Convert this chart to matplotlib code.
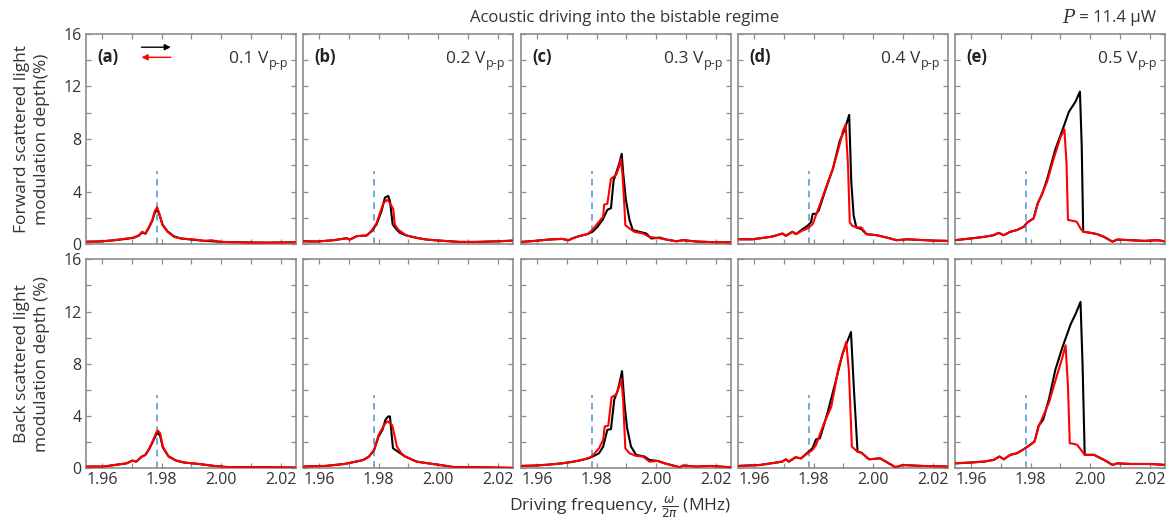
import matplotlib
matplotlib.use('Agg')
import matplotlib.pyplot as plt
from matplotlib.ticker import MultipleLocator, FixedLocator
import matplotlib.transforms as mtransforms

plt.rcParams['font.family'] = ['Open Sans', 'DejaVu Sans']

# ---------------- data (frequency in MHz, modulation depth in %) ----------------
voltages = ['0.1', '0.2', '0.3', '0.4', '0.5']
letters = ['(a)', '(b)', '(c)', '(d)', '(e)']
x_ticks = [1.96, 1.98, 2.00, 2.02]
x_tick_labels = ['1.96', '1.98', '2.00', '2.02']
y_ticks = [0, 4, 8, 12, 16]
resonance_f = 1.9783
resonance_top = 5.6

# Forward scattered (top row)
fa_f = [1.9547, 1.9594, 1.9639, 1.9684, 1.9707, 1.9724, 1.9735, 1.9746, 1.9758, 1.9769, 1.9777, 1.9785, 1.9792, 1.9803, 1.9820, 1.9842, 1.9865, 1.9910, 1.9943, 1.9966, 2.0000, 2.0090, 2.0157, 2.0248]
fa_blk_v = [0.20, 0.22, 0.30, 0.42, 0.50, 0.66, 0.90, 0.80, 1.28, 1.80, 2.40, 2.62, 2.30, 1.50, 0.98, 0.60, 0.44, 0.34, 0.26, 0.24, 0.18, 0.14, 0.12, 0.15]
fa_red_v = [0.18, 0.21, 0.31, 0.44, 0.51, 0.69, 0.95, 0.82, 1.33, 1.85, 2.50, 2.82, 2.36, 1.46, 0.95, 0.56, 0.44, 0.36, 0.26, 0.31, 0.18, 0.13, 0.13, 0.15]

fb_blk_f = [1.9547, 1.9593, 1.9649, 1.9693, 1.9704, 1.9727, 1.9760, 1.9777, 1.9793, 1.9810, 1.9821, 1.9832, 1.9838, 1.9847, 1.9860, 1.9871, 1.9893, 1.9927, 1.9960, 2.0004, 2.0071, 2.0127, 2.0204, 2.0248]
fb_blk_v = [0.23, 0.21, 0.31, 0.46, 0.36, 0.62, 0.67, 1.00, 1.51, 2.54, 3.54, 3.67, 3.28, 1.51, 1.13, 0.87, 0.67, 0.49, 0.36, 0.28, 0.18, 0.18, 0.23, 0.28]
fb_red_f = [1.9547, 1.9593, 1.9649, 1.9693, 1.9704, 1.9727, 1.9760, 1.9777, 1.9793, 1.9816, 1.9829, 1.9838, 1.9849, 1.9854, 1.9866, 1.9893, 1.9927, 1.9960, 2.0004, 2.0071, 2.0127, 2.0204, 2.0248]
fb_red_v = [0.23, 0.21, 0.31, 0.46, 0.36, 0.62, 0.67, 1.05, 1.60, 3.13, 3.38, 3.13, 2.67, 1.50, 1.10, 0.67, 0.49, 0.36, 0.28, 0.18, 0.18, 0.23, 0.28]

fc_blk_f = [1.9547, 1.9594, 1.9639, 1.9684, 1.9707, 1.9718, 1.9741, 1.9769, 1.9786, 1.9803, 1.9820, 1.9836, 1.9848, 1.9857, 1.9865, 1.9876, 1.9884, 1.9889, 1.9898, 1.9910, 1.9921, 1.9943, 1.9966, 1.9983, 2.0011, 2.0033, 2.0067, 2.0090, 2.0135, 2.0202, 2.0248]
fc_blk_v = [0.18, 0.26, 0.36, 0.41, 0.31, 0.44, 0.62, 0.77, 0.95, 1.33, 1.85, 2.62, 2.74, 4.87, 5.38, 6.15, 6.87, 5.38, 3.38, 1.85, 1.08, 0.95, 0.82, 0.44, 0.51, 0.36, 0.23, 0.31, 0.21, 0.15, 0.15]
fc_red_f = [1.9547, 1.9594, 1.9639, 1.9684, 1.9707, 1.9718, 1.9741, 1.9769, 1.9786, 1.9808, 1.9822, 1.9825, 1.9836, 1.9848, 1.9865, 1.9876, 1.9881, 1.9887, 1.9893, 1.9896, 1.9910, 1.9926, 1.9955, 1.9977, 2.0011, 2.0033, 2.0067, 2.0090, 2.0135, 2.0202, 2.0248]
fc_red_v = [0.18, 0.26, 0.36, 0.41, 0.31, 0.44, 0.62, 0.77, 1.08, 1.72, 2.10, 3.00, 3.08, 4.97, 5.26, 5.95, 6.46, 5.20, 2.87, 1.46, 1.20, 0.95, 0.82, 0.56, 0.46, 0.36, 0.23, 0.31, 0.21, 0.15, 0.15]

fd_blk_f = [1.9547, 1.9594, 1.9639, 1.9662, 1.9696, 1.9707, 1.9729, 1.9741, 1.9763, 1.9780, 1.9791, 1.9797, 1.9808, 1.9817, 1.9842, 1.9865, 1.9887, 1.9904, 1.9919, 1.9926, 1.9934, 1.9943, 1.9960, 1.9977, 2.0011, 2.0045, 2.0078, 2.0112, 2.0157, 2.0202, 2.0248]
fd_blk_v = [0.38, 0.38, 0.51, 0.59, 0.82, 0.64, 0.95, 0.77, 1.15, 1.41, 1.67, 2.31, 2.31, 2.56, 4.28, 5.77, 7.82, 8.72, 9.82, 4.74, 2.18, 1.28, 1.15, 0.77, 0.69, 0.51, 0.31, 0.38, 0.33, 0.28, 0.26]
fd_red_f = [1.9547, 1.9594, 1.9639, 1.9662, 1.9696, 1.9707, 1.9729, 1.9741, 1.9763, 1.9780, 1.9797, 1.9820, 1.9842, 1.9865, 1.9887, 1.9898, 1.9907, 1.9915, 1.9921, 1.9929, 1.9943, 1.9960, 1.9977, 2.0011, 2.0045, 2.0078, 2.0112, 2.0157, 2.0202, 2.0248]
fd_red_v = [0.38, 0.38, 0.51, 0.59, 0.82, 0.64, 0.95, 0.77, 1.05, 1.20, 1.54, 2.95, 4.36, 5.77, 7.56, 8.59, 9.10, 6.03, 1.67, 1.41, 1.28, 1.28, 0.77, 0.69, 0.51, 0.31, 0.38, 0.33, 0.28, 0.26]

fe_blk_f = [1.9547, 1.9598, 1.9643, 1.9676, 1.9693, 1.9710, 1.9732, 1.9754, 1.9777, 1.9788, 1.9810, 1.9824, 1.9838, 1.9855, 1.9883, 1.9906, 1.9928, 1.9950, 1.9965, 1.9971, 1.9976, 2.0001, 2.0023, 2.0046, 2.0074, 2.0090, 2.0135, 2.0180, 2.0225, 2.0248]
fe_blk_v = [0.31, 0.44, 0.56, 0.69, 0.87, 0.69, 0.95, 1.08, 1.33, 1.64, 1.97, 3.13, 3.77, 4.92, 7.23, 8.64, 10.05, 10.82, 11.59, 7.50, 0.95, 0.87, 0.77, 0.56, 0.20, 0.36, 0.31, 0.26, 0.31, 0.23]
fe_red_f = [1.9547, 1.9598, 1.9643, 1.9676, 1.9693, 1.9710, 1.9732, 1.9754, 1.9777, 1.9788, 1.9810, 1.9824, 1.9855, 1.9878, 1.9900, 1.9913, 1.9920, 1.9925, 1.9939, 1.9954, 1.9967, 1.9976, 2.0001, 2.0023, 2.0046, 2.0074, 2.0090, 2.0135, 2.0180, 2.0225, 2.0248]
fe_red_v = [0.31, 0.44, 0.56, 0.69, 0.87, 0.69, 0.95, 1.08, 1.33, 1.64, 1.97, 3.08, 4.74, 6.56, 8.13, 8.72, 6.20, 1.85, 1.79, 1.72, 1.20, 0.95, 0.87, 0.77, 0.56, 0.20, 0.36, 0.31, 0.26, 0.31, 0.23]

# Back scattered (bottom row)
ba_f = [1.9547, 1.9606, 1.9645, 1.9683, 1.9702, 1.9715, 1.9734, 1.9746, 1.9759, 1.9772, 1.9782, 1.9787, 1.9795, 1.9804, 1.9823, 1.9848, 1.9874, 1.9925, 1.9976, 2.0027, 2.0090, 2.0154, 2.0248]
ba_blk_v = [0.13, 0.13, 0.26, 0.38, 0.59, 0.51, 0.90, 1.03, 1.50, 2.10, 2.60, 2.70, 2.50, 1.60, 0.92, 0.60, 0.45, 0.33, 0.18, 0.08, 0.08, 0.08, 0.05]
ba_red_v = [0.13, 0.13, 0.26, 0.38, 0.59, 0.51, 0.90, 1.03, 1.54, 2.18, 2.74, 2.90, 2.69, 1.67, 0.90, 0.59, 0.44, 0.33, 0.18, 0.08, 0.08, 0.08, 0.05]

bb_blk_f = [1.9547, 1.9622, 1.9685, 1.9724, 1.9749, 1.9768, 1.9785, 1.9800, 1.9813, 1.9823, 1.9832, 1.9838, 1.9842, 1.9848, 1.9864, 1.9889, 1.9927, 1.9966, 2.0004, 2.0055, 2.0131, 2.0248]
bb_blk_v = [0.13, 0.18, 0.33, 0.51, 0.64, 0.90, 1.41, 2.44, 2.95, 3.72, 3.97, 3.97, 2.95, 1.54, 1.28, 0.90, 0.51, 0.38, 0.26, 0.08, 0.08, 0.03]
bb_red_f = [1.9547, 1.9622, 1.9685, 1.9724, 1.9749, 1.9768, 1.9785, 1.9800, 1.9819, 1.9829, 1.9845, 1.9854, 1.9861, 1.9876, 1.9889, 1.9927, 1.9966, 2.0004, 2.0055, 2.0131, 2.0248]
bb_red_v = [0.13, 0.18, 0.33, 0.51, 0.64, 0.90, 1.41, 2.56, 3.33, 3.60, 3.33, 2.44, 1.67, 1.15, 0.90, 0.51, 0.38, 0.26, 0.08, 0.08, 0.03]

bc_blk_f = [1.9547, 1.9594, 1.9639, 1.9684, 1.9718, 1.9741, 1.9774, 1.9791, 1.9808, 1.9822, 1.9836, 1.9848, 1.9859, 1.9870, 1.9878, 1.9885, 1.9893, 1.9902, 1.9915, 1.9932, 1.9960, 1.9977, 2.0005, 2.0028, 2.0056, 2.0078, 2.0090, 2.0135, 2.0180, 2.0248]
bc_blk_v = [0.18, 0.21, 0.28, 0.38, 0.49, 0.59, 0.77, 0.95, 1.15, 1.67, 2.95, 3.00, 5.26, 5.90, 6.67, 7.44, 5.00, 3.08, 1.67, 1.03, 0.90, 0.64, 0.56, 0.38, 0.21, 0.08, 0.21, 0.13, 0.18, 0.08]
bc_red_f = [1.9547, 1.9594, 1.9639, 1.9684, 1.9718, 1.9741, 1.9774, 1.9786, 1.9808, 1.9822, 1.9827, 1.9839, 1.9850, 1.9865, 1.9876, 1.9883, 1.9889, 1.9896, 1.9910, 1.9932, 1.9955, 1.9977, 2.0005, 2.0028, 2.0056, 2.0078, 2.0090, 2.0135, 2.0180, 2.0248]
bc_red_v = [0.18, 0.21, 0.28, 0.38, 0.49, 0.59, 0.80, 0.95, 1.54, 2.18, 3.20, 3.26, 5.44, 5.64, 6.28, 6.85, 5.13, 1.54, 1.15, 0.95, 0.90, 0.51, 0.56, 0.38, 0.21, 0.08, 0.21, 0.13, 0.18, 0.08]

bd_blk_f = [1.9547, 1.9619, 1.9657, 1.9695, 1.9707, 1.9717, 1.9739, 1.9758, 1.9783, 1.9796, 1.9808, 1.9821, 1.9846, 1.9872, 1.9897, 1.9925, 1.9935, 1.9947, 1.9960, 1.9985, 2.0023, 2.0074, 2.0099, 2.0162, 2.0248]
bd_blk_v = [0.18, 0.25, 0.38, 0.51, 0.69, 0.51, 0.84, 0.76, 1.27, 1.53, 2.21, 2.29, 4.20, 6.49, 8.78, 10.43, 6.00, 1.27, 1.20, 0.69, 0.76, 0.08, 0.25, 0.18, 0.13]
bd_red_f = [1.9547, 1.9619, 1.9657, 1.9695, 1.9707, 1.9717, 1.9739, 1.9758, 1.9783, 1.9796, 1.9808, 1.9834, 1.9859, 1.9884, 1.9909, 1.9918, 1.9928, 1.9947, 1.9960, 1.9985, 2.0023, 2.0074, 2.0099, 2.0162, 2.0248]
bd_red_v = [0.18, 0.25, 0.38, 0.51, 0.69, 0.51, 0.84, 0.76, 1.20, 1.40, 1.78, 3.40, 4.70, 7.76, 9.67, 7.50, 1.65, 1.27, 1.20, 0.69, 0.76, 0.08, 0.25, 0.18, 0.13]

be_blk_f = [1.9547, 1.9598, 1.9643, 1.9676, 1.9696, 1.9710, 1.9732, 1.9754, 1.9777, 1.9794, 1.9813, 1.9827, 1.9842, 1.9861, 1.9883, 1.9906, 1.9934, 1.9950, 1.9967, 1.9974, 1.9981, 2.0012, 2.0046, 2.0074, 2.0090, 2.0135, 2.0202, 2.0248]
be_blk_v = [0.38, 0.44, 0.51, 0.64, 0.90, 0.69, 1.03, 1.15, 1.46, 1.72, 2.05, 3.26, 3.72, 5.26, 7.56, 9.23, 11.03, 11.79, 12.74, 7.80, 1.03, 1.03, 0.64, 0.26, 0.38, 0.33, 0.33, 0.26]
be_red_f = [1.9547, 1.9598, 1.9643, 1.9676, 1.9696, 1.9710, 1.9732, 1.9754, 1.9777, 1.9794, 1.9813, 1.9827, 1.9861, 1.9889, 1.9906, 1.9917, 1.9925, 1.9931, 1.9945, 1.9956, 1.9973, 1.9981, 2.0012, 2.0046, 2.0074, 2.0090, 2.0135, 2.0202, 2.0248]
be_red_v = [0.38, 0.44, 0.51, 0.64, 0.90, 0.69, 1.03, 1.15, 1.46, 1.72, 2.05, 3.21, 5.00, 7.18, 8.46, 9.41, 6.28, 1.92, 1.87, 1.79, 1.28, 1.03, 1.03, 0.64, 0.26, 0.38, 0.33, 0.33, 0.26]

forward = [
    ((fa_f, fa_blk_v), (fa_f, fa_red_v)),
    ((fb_blk_f, fb_blk_v), (fb_red_f, fb_red_v)),
    ((fc_blk_f, fc_blk_v), (fc_red_f, fc_red_v)),
    ((fd_blk_f, fd_blk_v), (fd_red_f, fd_red_v)),
    ((fe_blk_f, fe_blk_v), (fe_red_f, fe_red_v)),
]
backward = [
    ((ba_f, ba_blk_v), (ba_f, ba_red_v)),
    ((bb_blk_f, bb_blk_v), (bb_red_f, bb_red_v)),
    ((bc_blk_f, bc_blk_v), (bc_red_f, bc_red_v)),
    ((bd_blk_f, bd_blk_v), (bd_red_f, bd_red_v)),
    ((be_blk_f, be_blk_v), (be_red_f, be_red_v)),
]

# ---------------- figure ----------------
W, H = 1171, 526
fig = plt.figure(figsize=(W / 100, H / 100), dpi=100)
renderer = fig.canvas.get_renderer()

TXT = '#333333'
SPINE = '#8c8c8c'
lefts = [86, 303, 521, 738, 955]
pw = 209.5
rows_px = [(33.5, 244.3), (259.3, 468.3)]

axes = []
for r, (top, bot) in enumerate(rows_px):
    data = forward if r == 0 else backward
    for c in range(5):
        ax = fig.add_axes([lefts[c] / W, 1 - bot / H, pw / W, (bot - top) / H])
        (bf, bv), (rf, rv) = data[c]
        ax.plot([resonance_f, resonance_f], [0, resonance_top], color='#5b9bd5',
                lw=1.2, ls=(0, (4, 3)), zorder=1)
        ax.plot(bf, bv, color='black', lw=1.5, zorder=2)
        ax.plot(rf, rv, color='#ff0000', lw=1.5, zorder=3)
        ax.set_xlim(1.9547, 2.0248)
        ax.set_ylim(0, 16)
        ax.xaxis.set_major_locator(FixedLocator(x_ticks))
        ax.xaxis.set_minor_locator(MultipleLocator(0.01))
        ax.yaxis.set_major_locator(FixedLocator(y_ticks))
        ax.yaxis.set_minor_locator(MultipleLocator(2))
        ax.set_xticklabels(x_tick_labels)
        ax.tick_params(which='both', direction='in', top=True, right=True,
                       length=3.5, width=0.9, color=SPINE, labelcolor=TXT,
                       labelsize=11.5, pad=3,
                       labelleft=(c == 0), labelbottom=(r == 1))
        for s in ax.spines.values():
            s.set_color(SPINE)
            s.set_linewidth(1.2)
        if r == 0:
            ax.text(0.055, 0.89, letters[c], transform=ax.transAxes, fontsize=12,
                    fontweight='bold', color='#222222', ha='left', va='center')
            # voltage label with subscript, right aligned
            sub = ax.text(0.965, 0.89, 'p-p', fontsize=9, color=TXT, ha='right',
                          va='baseline',
                          transform=mtransforms.offset_copy(ax.transAxes, fig, x=0, y=-10,
                                                            units='dots'))
            wsub = sub.get_window_extent(renderer).width
            ax.text(0.965, 0.89, voltages[c] + ' V', fontsize=12.5, color=TXT,
                    ha='right', va='baseline',
                    transform=mtransforms.offset_copy(ax.transAxes, fig, x=-wsub, y=-6,
                                                      units='dots'))
        axes.append(ax)

# direction arrows in panel (a)
ax0 = axes[0]
ax0.annotate('', xy=(0.405, 0.935), xytext=(0.265, 0.935), xycoords='axes fraction',
             arrowprops=dict(arrowstyle='-|>', color='black', lw=1.0, mutation_scale=9,
                             shrinkA=0, shrinkB=0))
ax0.annotate('', xy=(0.265, 0.887), xytext=(0.405, 0.887), xycoords='axes fraction',
             arrowprops=dict(arrowstyle='-|>', color='#ff0000', lw=1.0, mutation_scale=9,
                             shrinkA=0, shrinkB=0))

# y labels
fig.text(32 / W, 1 - (rows_px[0][0] + rows_px[0][1]) / 2 / H,
         'Forward scattered light\nmodulation depth(%)', rotation=90, ha='center',
         va='center', multialignment='center', fontsize=12.5, color=TXT, linespacing=1.35)
fig.text(32 / W, 1 - (rows_px[1][0] + rows_px[1][1]) / 2 / H,
         'Back scattered light\nmodulation depth (%)', rotation=90, ha='center',
         va='center', multialignment='center', fontsize=12.5, color=TXT, linespacing=1.35)

# x label
fig.text(620 / W, 1 - 507 / H, r'Driving frequency, $\frac{\omega}{2\pi}$ (MHz)',
         ha='center', va='center', fontsize=12.5, color=TXT)

# title
fig.text(625 / W, 1 - 18 / H, 'Acoustic driving into the bistable regime',
         ha='center', va='center', fontsize=12, color=TXT)

# power label
pt = fig.text(1156 / W, 1 - 18 / H, ' = 11.4 μW', ha='right', va='center',
              fontsize=12, color=TXT)
wpt = pt.get_window_extent(renderer).width
fig.text(1156 / W, 1 - 18 / H, 'P', ha='right', va='center', fontsize=13,
         color=TXT, family='DejaVu Serif', style='italic',
         transform=mtransforms.offset_copy(fig.transFigure, fig, x=-wpt, y=0, units='dots'))

fig.savefig('out.png', dpi=100)
